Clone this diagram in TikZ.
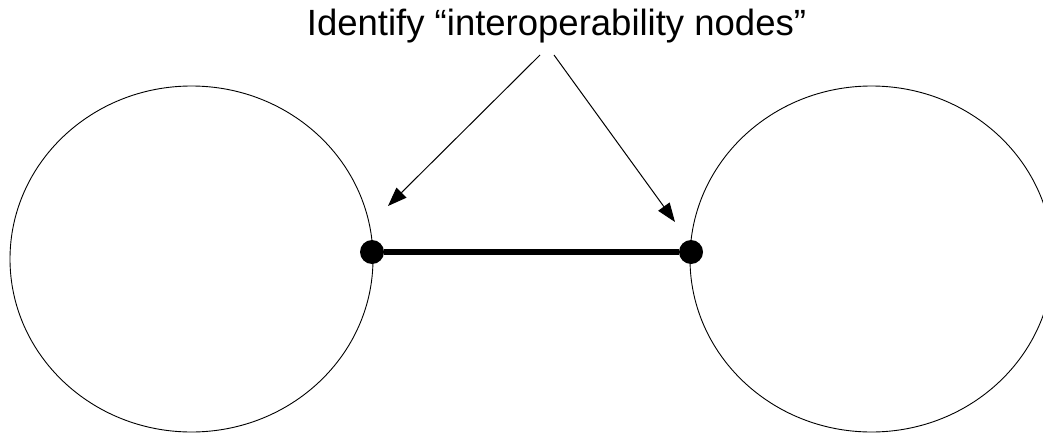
\documentclass[tikz,border=0pt]{standalone}
\usepackage{fontspec}
\setmainfont{Liberation Sans}
\usetikzlibrary{shapes.geometric,arrows.meta}

\tikzset{
  network/.style={ellipse, draw, line width=0.9pt, inner sep=0pt,
    minimum width=363pt, minimum height=346pt},
  interop/.style={circle, fill, inner sep=0pt, minimum size=24pt},
  pointer/.style={line width=1pt, -{Triangle[length=19pt,width=14pt]}},
  link/.style={line width=6pt}
}

\begin{document}
\begin{tikzpicture}[x=1pt, y=-1pt]
  \useasboundingbox (0,0) rectangle (1043,433);

  % Define nodes
  \node[network] (netl) at (191.5,259) {};
  \node[network] (netr) at (871.5,259) {};
  \node[interop] (pl) at (372,252) {};
  \node[interop] (pr) at (691,252) {};
  \node[anchor=base, inner sep=0pt, font=\fontsize{36.5}{44}\selectfont]
    (title) at (556.5,36) {Identify “interoperability nodes”};
  \coordinate (sl) at (540,55);
  \coordinate (sr) at (554,55);
  \coordinate (tl) at (388,206);
  \coordinate (tr) at (675,222);

  % Connect the nodes
  \draw[link] (pl) -- (pr);
  \draw[pointer] (sl) -- (tl);
  \draw[pointer] (sr) -- (tr);

\end{tikzpicture}
\end{document}
